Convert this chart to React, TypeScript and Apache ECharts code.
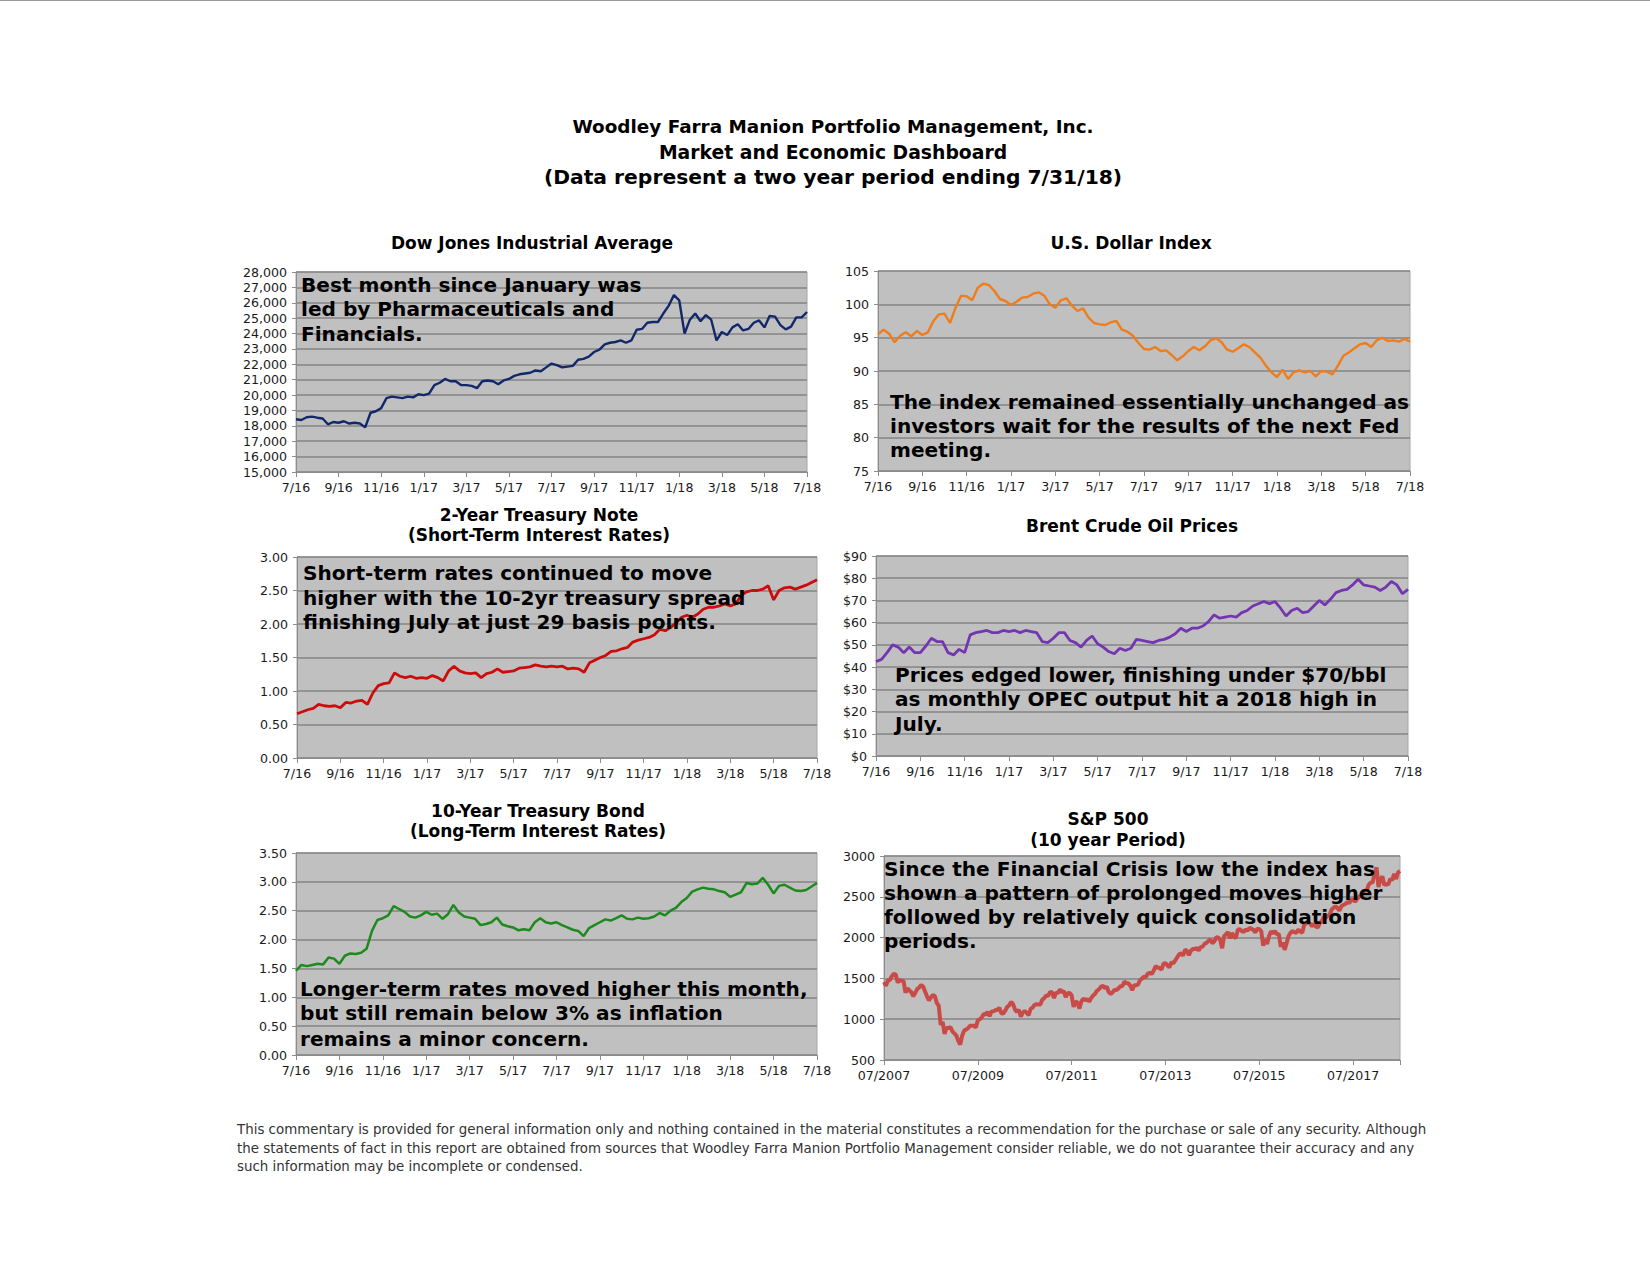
import React, { useEffect, useRef } from "react";
import * as echarts from "echarts";

// ---------- tick labels ----------
const monthTickLabels = ["7/16", "9/16", "11/16", "1/17", "3/17", "5/17", "7/17", "9/17", "11/17", "1/18", "3/18", "5/18", "7/18"];
const spxTickLabels = ["07/2007", "07/2009", "07/2011", "07/2013", "07/2015", "07/2017"];

// ---------- series values (two-year charts: 4 readings per month, 7/16 .. 7/18) ----------
const dowValues = [
  18430, 18380, 18560, 18600, 18530, 18480, 18100, 18250,
  18200, 18300, 18150, 18200, 18150, 17900, 18850, 18950,
  19150, 19800, 19900, 19850, 19800, 19900, 19850, 20050,
  20000, 20100, 20650, 20800, 21050, 20900, 20900, 20650,
  20650, 20600, 20450, 20900, 20950, 20900, 20700, 20950,
  21050, 21250, 21350, 21400, 21450, 21600, 21550, 21800,
  22050, 21950, 21800, 21850, 21900, 22300, 22350, 22500,
  22800, 22950, 23300, 23400, 23450, 23550, 23400, 23550,
  24250, 24300, 24700, 24750, 24750, 25300, 25800, 26500,
  26150, 24000, 24900, 25300, 24800, 25200, 24900, 23550,
  24100, 23900, 24400, 24600, 24200, 24300, 24700, 24850,
  24400, 25150, 25100, 24550, 24270, 24450, 25050, 25050,
  25400,
];

const dollarValues = [
  95.5, 96.2, 95.6, 94.3, 95.3, 95.8, 95.2, 96.0,
  95.4, 95.8, 97.5, 98.5, 98.6, 97.2, 99.5, 101.3,
  101.2, 100.6, 102.5, 103.1, 102.9, 102.0, 100.8, 100.5,
  99.9, 100.4, 101.0, 101.1, 101.6, 101.8, 101.3, 100.0,
  99.5, 100.6, 100.9, 99.8, 99.0, 99.4, 98.0, 97.2,
  97.0, 96.9, 97.3, 97.5, 96.2, 95.9, 95.3, 94.2,
  93.3, 93.2, 93.6, 93.0, 93.1, 92.4, 91.6, 92.2,
  93.0, 93.6, 93.1, 93.7, 94.6, 94.9, 94.3, 93.2,
  92.9, 93.4, 94.0, 93.6, 92.8, 92.0, 90.8, 89.8,
  89.1, 90.2, 88.8, 89.8, 90.1, 89.8, 90.0, 89.2,
  90.0, 89.9, 89.5, 90.8, 92.3, 92.8, 93.4, 94.0,
  94.2, 93.6, 94.6, 95.0, 94.5, 94.6, 94.4, 94.8,
  94.4,
];

const twoYearValues = [
  0.66, 0.69, 0.72, 0.74, 0.80, 0.78, 0.77, 0.78,
  0.75, 0.83, 0.82, 0.85, 0.86, 0.80, 0.97, 1.08,
  1.11, 1.12, 1.27, 1.22, 1.20, 1.22, 1.19, 1.20,
  1.19, 1.23, 1.20, 1.15, 1.30, 1.37, 1.30, 1.27,
  1.26, 1.27, 1.20, 1.26, 1.28, 1.33, 1.28, 1.29,
  1.30, 1.34, 1.35, 1.36, 1.39, 1.37, 1.36, 1.37,
  1.36, 1.37, 1.33, 1.34, 1.33, 1.28, 1.42, 1.46,
  1.50, 1.53, 1.59, 1.60, 1.63, 1.65, 1.73, 1.76,
  1.78, 1.80, 1.84, 1.92, 1.90, 1.95, 2.02, 2.10,
  2.13, 2.10, 2.15, 2.22, 2.25, 2.25, 2.27, 2.30,
  2.27, 2.30, 2.43, 2.48, 2.50, 2.50, 2.52, 2.57,
  2.36, 2.50, 2.54, 2.55, 2.52, 2.55, 2.58, 2.62,
  2.66,
];

const brentValues = [
  42.5, 43.5, 46.5, 50.0, 49.0, 46.5, 49.0, 46.5,
  46.5, 49.5, 53.0, 51.5, 51.5, 46.5, 45.5, 48.0,
  46.5, 54.5, 55.5, 56.0, 56.5, 55.5, 55.5, 56.5,
  56.0, 56.5, 55.5, 56.5, 56.0, 55.5, 51.5, 51.0,
  53.0, 55.5, 55.5, 52.0, 51.0, 49.0, 52.0, 54.0,
  50.5, 49.0, 47.0, 46.0, 48.5, 47.5, 48.5, 52.5,
  52.0, 51.5, 51.0, 52.0, 52.5, 53.5, 55.0, 57.5,
  56.0, 57.5, 57.5, 58.5, 60.5, 63.5, 62.0, 62.5,
  63.0, 62.5, 64.5, 65.5, 67.5, 68.5, 69.5, 68.5,
  69.5, 66.5, 63.0, 65.5, 66.5, 64.5, 65.0, 67.5,
  70.0, 68.0, 70.5, 73.5, 74.5, 75.0, 77.0, 79.5,
  77.0, 76.5, 76.0, 74.5, 76.0, 78.5, 77.0, 73.0,
  75.0,
];

const tenYearValues = [
  1.46, 1.56, 1.54, 1.56, 1.58, 1.57, 1.69, 1.67,
  1.58, 1.72, 1.76, 1.75, 1.77, 1.84, 2.15, 2.34,
  2.37, 2.42, 2.58, 2.53, 2.48, 2.40, 2.38, 2.42,
  2.48, 2.43, 2.45, 2.36, 2.44, 2.60, 2.47, 2.40,
  2.38, 2.36, 2.25, 2.27, 2.30, 2.38, 2.26, 2.23,
  2.21, 2.16, 2.18, 2.16, 2.30, 2.37, 2.30, 2.28,
  2.30, 2.25, 2.21, 2.17, 2.15, 2.06, 2.20, 2.25,
  2.30, 2.35, 2.33, 2.37, 2.42, 2.36, 2.35, 2.38,
  2.36, 2.37, 2.40, 2.46, 2.42, 2.50, 2.55, 2.65,
  2.72, 2.83, 2.87, 2.90, 2.88, 2.87, 2.84, 2.82,
  2.74, 2.78, 2.82, 2.98, 2.96, 2.97, 3.07, 2.95,
  2.80, 2.93, 2.95, 2.90, 2.85, 2.84, 2.86, 2.92,
  2.98,
];

// S&P 500: 2 readings per month, 07/2007 .. 07/2018
const spxValues = [
  1455, 1410, 1474, 1480, 1527, 1555, 1549, 1450, 1481, 1470, 1468, 1325,
  1378, 1350, 1331, 1280, 1323, 1370, 1386, 1420, 1400, 1340, 1280, 1230,
  1267, 1295, 1283, 1200, 1166, 930, 969, 820, 896, 890, 903, 850,
  826, 800, 735, 690, 798, 860, 873, 890, 919, 920, 919, 900,
  987, 1000, 1021, 1065, 1057, 1090, 1036, 1095, 1096, 1110, 1115, 1140,
  1074, 1070, 1104, 1150, 1169, 1210, 1187, 1120, 1089, 1115, 1031, 1080,
  1102, 1080, 1049, 1125, 1141, 1175, 1183, 1180, 1181, 1240, 1258, 1290,
  1286, 1335, 1327, 1260, 1326, 1320, 1364, 1330, 1345, 1270, 1321, 1320,
  1292, 1150, 1219, 1200, 1131, 1220, 1253, 1230, 1247, 1215, 1258, 1290,
  1312, 1350, 1366, 1400, 1408, 1380, 1398, 1330, 1310, 1330, 1362, 1356,
  1379, 1405, 1407, 1460, 1441, 1440, 1412, 1355, 1416, 1415, 1426, 1480,
  1498, 1520, 1515, 1560, 1569, 1555, 1598, 1650, 1631, 1630, 1606, 1680,
  1686, 1660, 1633, 1700, 1682, 1720, 1757, 1795, 1806, 1780, 1848, 1840,
  1783, 1840, 1859, 1860, 1872, 1840, 1884, 1890, 1924, 1935, 1960, 1975,
  1931, 1955, 2003, 2000, 1972, 1870, 2018, 2040, 2068, 1990, 2059, 2010,
  1995, 2095, 2105, 2080, 2068, 2100, 2086, 2120, 2107, 2095, 2063, 2110,
  2104, 2080, 1900, 1980, 1920, 2020, 2079, 2050, 2080, 2040, 2044, 1890,
  1940, 1850, 1932, 2020, 2060, 2080, 2065, 2060, 2097, 2075, 2060, 2160,
  2174, 2185, 2171, 2140, 2168, 2135, 2126, 2180, 2199, 2260, 2239, 2270,
  2279, 2345, 2364, 2385, 2363, 2330, 2384, 2400, 2412, 2435, 2423, 2460,
  2470, 2440, 2472, 2500, 2519, 2555, 2575, 2580, 2648, 2675, 2674, 2790,
  2860, 2620, 2714, 2750, 2641, 2660, 2648, 2720, 2705, 2780, 2718, 2800,
  2816,
];

const FONT = '"DejaVu Sans", Verdana, sans-serif';
const PER_MONTH = 4; // readings per month in two-year series
const SPX_PER_MONTH = 2;
const TICK_SIZE = 12.6;

const withCommas = (v: number) => String(v).replace(/\B(?=(\d{3})+(?!\d))/g, ",");

function monthXAxis(gridIndex: number) {
  return {
    type: "value",
    gridIndex,
    min: 0,
    max: 24,
    interval: 2,
    axisLine: { show: true, onZero: false, lineStyle: { color: "#8c8c8c", width: 1 } },
    axisTick: { show: true, length: 5, lineStyle: { color: "#8c8c8c" } },
    axisLabel: {
      formatter: (v: number) => monthTickLabels[Math.round(v / 2)] ?? "",
      fontFamily: FONT,
      fontSize: TICK_SIZE,
      color: "#1a1a1a",
      margin: 9,
    },
    splitLine: { show: false },
  };
}

function valueYAxis(gridIndex: number, min: number, max: number, interval: number, formatter: (v: number) => string) {
  return {
    type: "value",
    gridIndex,
    min,
    max,
    interval,
    axisLine: { show: true, lineStyle: { color: "#8c8c8c", width: 1 } },
    axisTick: { show: true, length: 4, lineStyle: { color: "#8c8c8c" } },
    axisLabel: { formatter, fontFamily: FONT, fontSize: TICK_SIZE, color: "#1a1a1a", margin: 9 },
    splitLine: { show: true, lineStyle: { color: "#858585", width: 1.6 } },
  };
}

function lineSeries(idx: number, values: number[], perUnit: number, color: string, width: number) {
  return {
    type: "line",
    xAxisIndex: idx,
    yAxisIndex: idx,
    data: values.map((v, i) => [i / perUnit, v]),
    showSymbol: false,
    symbol: "none",
    lineStyle: { color, width },
    itemStyle: { color },
    z: 3,
  };
}

const grids = [
  { left: 296, top: 272, width: 511, height: 200 },
  { left: 878, top: 271, width: 532, height: 200 },
  { left: 297, top: 557, width: 520, height: 201 },
  { left: 876, top: 556, width: 532, height: 200 },
  { left: 296, top: 853, width: 521, height: 202 },
  { left: 884, top: 856, width: 516, height: 204 },
];

type TextItem = { x: number; y: number; t: string; size: number; bold?: boolean; align?: string; color?: string };

const TITLE = 17;
const NOTE = 20.1;

const titleTexts: TextItem[] = [
  { x: 833, y: 126, t: "Woodley Farra Manion Portfolio Management, Inc.", size: 18.4, bold: true, align: "center" },
  { x: 833, y: 152, t: "Market and Economic Dashboard", size: 18.8, bold: true, align: "center" },
  { x: 833, y: 177, t: "(Data represent a two year period ending 7/31/18)", size: 20.3, bold: true, align: "center" },
  { x: 532, y: 243, t: "Dow Jones Industrial Average", size: TITLE, bold: true, align: "center" },
  { x: 1131, y: 243, t: "U.S. Dollar Index", size: TITLE, bold: true, align: "center" },
  { x: 539, y: 515, t: "2-Year Treasury Note", size: TITLE, bold: true, align: "center" },
  { x: 539, y: 535, t: "(Short-Term Interest Rates)", size: TITLE, bold: true, align: "center" },
  { x: 1132, y: 526, t: "Brent Crude Oil Prices", size: TITLE, bold: true, align: "center" },
  { x: 538, y: 811, t: "10-Year Treasury Bond", size: TITLE, bold: true, align: "center" },
  { x: 538, y: 831, t: "(Long-Term Interest Rates)", size: TITLE, bold: true, align: "center" },
  { x: 1108, y: 819, t: "S&P 500", size: TITLE, bold: true, align: "center" },
  { x: 1108, y: 840, t: "(10 year Period)", size: TITLE, bold: true, align: "center" },
];

const noteTexts: TextItem[] = [
  { x: 301, y: 285, t: "Best month since January was", size: NOTE, bold: true },
  { x: 301, y: 309, t: "led by Pharmaceuticals and", size: NOTE, bold: true },
  { x: 301, y: 334, t: "Financials.", size: NOTE, bold: true },
  { x: 890, y: 402, t: "The index remained essentially unchanged as", size: NOTE, bold: true },
  { x: 890, y: 426, t: "investors wait for the results of the next Fed", size: NOTE, bold: true },
  { x: 890, y: 450, t: "meeting.", size: NOTE, bold: true },
  { x: 303, y: 573, t: "Short-term rates continued to move", size: NOTE, bold: true },
  { x: 303, y: 598, t: "higher with the 10-2yr treasury spread", size: NOTE, bold: true },
  { x: 303, y: 622, t: "finishing July at just 29 basis points.", size: NOTE, bold: true },
  { x: 895, y: 675, t: "Prices edged lower, finishing under $70/bbl", size: NOTE, bold: true },
  { x: 895, y: 699, t: "as monthly OPEC output hit a 2018 high in", size: NOTE, bold: true },
  { x: 895, y: 724, t: "July.", size: NOTE, bold: true },
  { x: 300, y: 989, t: "Longer-term rates moved higher this month,", size: NOTE, bold: true },
  { x: 300, y: 1013, t: "but still remain below 3% as inflation", size: NOTE, bold: true },
  { x: 300, y: 1039, t: "remains a minor concern.", size: NOTE, bold: true },
  { x: 884, y: 869, t: "Since the Financial Crisis low the index has", size: NOTE, bold: true },
  { x: 884, y: 893, t: "shown a pattern of prolonged moves higher", size: NOTE, bold: true },
  { x: 884, y: 917, t: "followed by relatively quick consolidation", size: NOTE, bold: true },
  { x: 884, y: 941, t: "periods.", size: NOTE, bold: true },
];

const FOOT = 13.4;
const footerTexts: TextItem[] = [
  { x: 237, y: 1129, t: "This commentary is provided for general information only and nothing contained in the material constitutes a recommendation for the purchase or sale of any security. Although", size: FOOT, color: "#333" },
  { x: 237, y: 1148, t: "the statements of fact in this report are obtained from sources that Woodley Farra Manion Portfolio Management consider reliable, we do not guarantee their accuracy and any", size: FOOT, color: "#333" },
  { x: 237, y: 1166, t: "such information may be incomplete or condensed.", size: FOOT, color: "#333" },
];

function toGraphic(items: TextItem[]) {
  return items.map((it) => ({
    type: "text",
    z: 100,
    x: it.x,
    y: it.y,
    style: {
      text: it.t,
      fill: it.color ?? "#000",
      fontSize: it.size,
      fontWeight: it.bold ? "bold" : "normal",
      fontFamily: FONT,
      align: it.align ?? "left",
      verticalAlign: "middle",
    },
  }));
}

export default function App() {
  const ref = useRef<HTMLDivElement>(null);
  useEffect(() => {
    if (!ref.current) return;
    const chart = echarts.init(ref.current, undefined, { renderer: "svg" });
    const option: any = {
      animation: false,
      backgroundColor: "#ffffff",
      grid: grids.map((g) => ({ ...g, show: true, backgroundColor: "#c0c0c0", borderColor: "#a6a6a6", borderWidth: 1, containLabel: false })),
      xAxis: [
        monthXAxis(0),
        monthXAxis(1),
        monthXAxis(2),
        monthXAxis(3),
        monthXAxis(4),
        {
          type: "value",
          gridIndex: 5,
          min: 0,
          max: 132,
          interval: 24,
          axisLine: { show: true, onZero: false, lineStyle: { color: "#8c8c8c", width: 1 } },
          axisTick: { show: true, length: 5, lineStyle: { color: "#8c8c8c" } },
          axisLabel: {
            formatter: (v: number) => (v % 24 === 0 ? spxTickLabels[v / 24] ?? "" : ""),
            fontFamily: FONT,
            fontSize: TICK_SIZE,
            color: "#1a1a1a",
            margin: 9,
          },
          splitLine: { show: false },
        },
      ],
      yAxis: [
        valueYAxis(0, 15000, 28000, 1000, withCommas),
        valueYAxis(1, 75, 105, 5, (v) => String(v)),
        valueYAxis(2, 0, 3, 0.5, (v) => v.toFixed(2)),
        valueYAxis(3, 0, 90, 10, (v) => "$" + v),
        valueYAxis(4, 0, 3.5, 0.5, (v) => v.toFixed(2)),
        valueYAxis(5, 500, 3000, 500, (v) => String(v)),
      ],
      series: [
        lineSeries(0, dowValues, PER_MONTH, "#12286a", 2.4),
        lineSeries(1, dollarValues, PER_MONTH, "#ee7d1c", 2.4),
        lineSeries(2, twoYearValues, PER_MONTH, "#cc0b0b", 2.8),
        lineSeries(3, brentValues, PER_MONTH, "#7436b0", 2.8),
        lineSeries(4, tenYearValues, PER_MONTH, "#1c8a1c", 2.5),
        lineSeries(5, spxValues, SPX_PER_MONTH, "#c94b48", 4),
      ],
      graphic: [
        { type: "line", z: 100, shape: { x1: 0, y1: 0.5, x2: 1650, y2: 0.5 }, style: { stroke: "#9a9a9a", lineWidth: 1 } },
        ...toGraphic(titleTexts),
        ...toGraphic(noteTexts),
        ...toGraphic(footerTexts),
      ],
    };
    chart.setOption(option);
    return () => chart.dispose();
  }, []);
  return <div ref={ref} style={{ position: "absolute", left: 0, top: 0, width: 1650, height: 1275, background: "#fff" }} />;
}
